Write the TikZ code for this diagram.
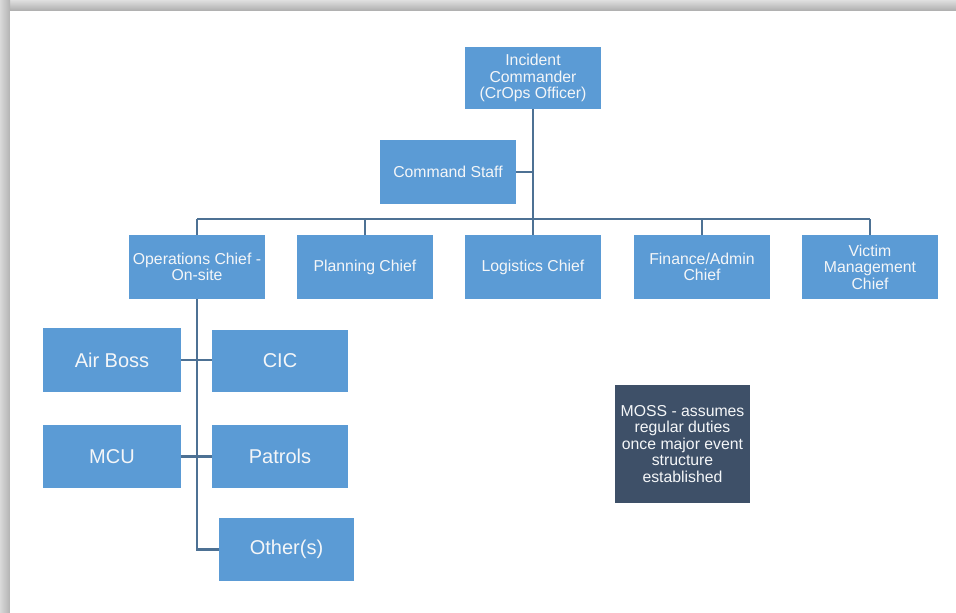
\documentclass[tikz,border=0pt]{standalone}
\usepackage{fontspec}
\setmainfont{Liberation Sans}
\begin{document}
\begin{tikzpicture}[x=1pt,y=-1pt,
  box/.style={fill=boxblue, text=boxtext, align=center, inner sep=2pt,
    minimum width=136pt, minimum height=64pt, font=\fontsize{15.8}{16.5}\selectfont},
  bigbox/.style={box, font=\fontsize{20}{24}\selectfont},
  conn/.style={draw=linec, line width=2.5pt}]
\definecolor{boxblue}{HTML}{5B9BD5}
\definecolor{boxtext}{HTML}{F4F6F8}
\definecolor{linec}{HTML}{4D7194}
\definecolor{mossc}{HTML}{3E5068}
\useasboundingbox (0,0) rectangle (956,613);
\fill[white] (0,0) rectangle (956,613);
\shade[top color=gray!25, bottom color=gray!65] (0,0) rectangle (956,11);
\shade[left color=gray!30, right color=gray!60] (0,0) rectangle (10,613);
\fill[white] (10,11) rectangle (956,613);

\node[box, minimum height=62pt] (ic) at (533,78) {Incident\\Commander\\(CrOps Officer)};
\node[box] (cs) at (448,172) {Command Staff};
\node[box] (ops) at (197,267) {Operations Chief -\\On-site};
\node[box] (plan) at (365,267) {Planning Chief};
\node[box] (log) at (533,267) {Logistics Chief};
\node[box] (fin) at (702,267) {Finance/Admin\\Chief};
\node[box] (vic) at (870,267) {Victim\\Management\\Chief};
\node[bigbox, minimum width=138pt] (air) at (112,360) {Air Boss};
\node[bigbox, minimum height=62pt] (cic) at (280,361) {CIC};
\node[bigbox, minimum width=138pt, minimum height=63pt] (mcu) at (112,456.5) {MCU};
\node[bigbox, minimum height=63pt] (pat) at (280,456.5) {Patrols};
\node[bigbox, minimum width=135pt, minimum height=63pt] (oth) at (286.5,549.5) {Other(s)};
\node[box, fill=mossc, minimum width=135pt, minimum height=118pt] (moss) at (682.5,444)
  {MOSS - assumes\\regular duties\\once major event\\structure\\established};

\coordinate (bar) at (0,219);
\draw[conn] (ic.south) -- (ic.south |- bar);
\draw[conn] (ops.north |- bar) -- (vic.north |- bar);
\foreach \n in {ops,plan,log,fin,vic}
  \draw[conn] (\n.north |- bar) -- (\n.north);
\draw[conn] (cs.east) -- (cs.east -| ic.south);
\draw[conn] (ops.south) -- (ops.south |- oth.west) -- (oth.west);
\draw[conn] (air.east) -- (air.east -| cic.west);
\draw[conn] (mcu.east) -- (pat.west);
\end{tikzpicture}
\end{document}
